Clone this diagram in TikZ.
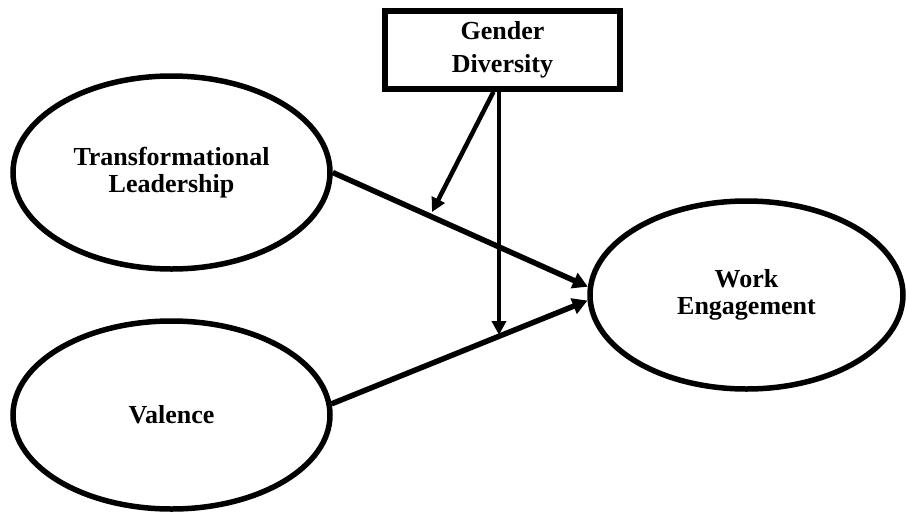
\documentclass[tikz,border=0pt]{standalone}
\usepackage{fontspec}
\setmainfont{Liberation Serif}
\usetikzlibrary{shapes.geometric,arrows.meta,calc}
\tikzset{
  construct/.style={ellipse, draw, line width=5.5pt, inner sep=0pt, align=center,
    font=\fontsize{26}{27}\selectfont\bfseries},
  modbox/.style={rectangle, draw, line width=5.5pt, inner sep=0pt, align=center,
    font=\fontsize{26}{33}\selectfont\bfseries},
  path/.style={line width=5.5pt, -{Triangle[length=15pt,width=16pt]}},
  modpath/.style={line width=4.5pt, -{Triangle[length=14pt,width=14pt]}}
}
\begin{document}
\begin{tikzpicture}[x=1pt,y=-1pt]
\useasboundingbox (0,0) rectangle (906,515);
\node[construct, minimum width=317pt, minimum height=193pt] (tl) at (171.5,172.5) {Transformational\\Leadership};
\node[construct, minimum width=317pt, minimum height=188pt] (val) at (171.5,415) {Valence};
\node[construct, minimum width=313pt, minimum height=188pt] (we) at (746.5,295) {Work\\Engagement};
\node[modbox, minimum width=235pt, minimum height=78pt] (gd) at (502.5,50) {Gender\\Diversity};
\coordinate (m1) at (432,212);
\coordinate (m2) at (499,335);
\draw[path] (tl.east) -- (we.177.5);
\draw[path] (val.4) -- (we.182.5);
\draw[modpath] ($(gd.south)+(-9,0)$) -- (m1);
\draw[modpath] (gd.south -| m2) -- (m2);
\end{tikzpicture}
\end{document}
